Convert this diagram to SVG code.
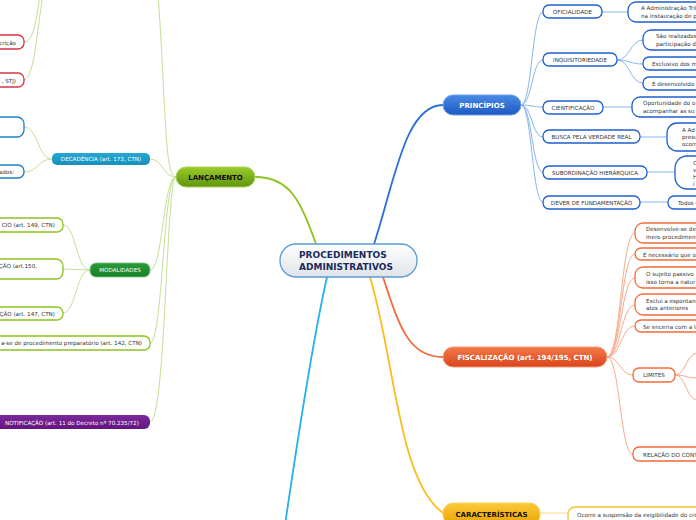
<svg xmlns="http://www.w3.org/2000/svg" width="696" height="520" viewBox="0 0 696 520">
<defs>
<linearGradient id="gCenter" x1="0" y1="0" x2="0" y2="1"><stop offset="0" stop-color="#ffffff"/><stop offset="1" stop-color="#dfe3e8"/></linearGradient>
<linearGradient id="gGreen" x1="0" y1="0" x2="0" y2="1"><stop offset="0" stop-color="#9ccc2a"/><stop offset="1" stop-color="#5f9410"/></linearGradient>
<linearGradient id="gBlue" x1="0" y1="0" x2="0" y2="1"><stop offset="0" stop-color="#4a8ae6"/><stop offset="1" stop-color="#1d58c0"/></linearGradient>
<linearGradient id="gOrange" x1="0" y1="0" x2="0" y2="1"><stop offset="0" stop-color="#f47a48"/><stop offset="1" stop-color="#d8441c"/></linearGradient>
<linearGradient id="gYellow" x1="0" y1="0" x2="0" y2="1"><stop offset="0" stop-color="#fdc93a"/><stop offset="1" stop-color="#e9a300"/></linearGradient>
<linearGradient id="gTeal" x1="0" y1="0" x2="0" y2="1"><stop offset="0" stop-color="#25a9d4"/><stop offset="1" stop-color="#1590bb"/></linearGradient>
<linearGradient id="gDGreen" x1="0" y1="0" x2="0" y2="1"><stop offset="0" stop-color="#2a9a3a"/><stop offset="1" stop-color="#18802a"/></linearGradient>
<linearGradient id="gPurple" x1="0" y1="0" x2="0" y2="1"><stop offset="0" stop-color="#7a2a9a"/><stop offset="1" stop-color="#621580"/></linearGradient>
</defs>
<style>
text{font-family:"DejaVu Sans","Noto Sans",sans-serif;}
.t{font-size:5.6px;fill:#333;}
.tw{font-size:5.6px;fill:#fff;}
.tb{font-size:7px;font-weight:bold;}
.n{fill:#fff;stroke-width:1.3;}
.red{stroke:#d8344a;}
.blu{stroke:#1b7fc4;}
.grn{stroke:#8dc21f;}
.pb{stroke:#1f5fcf;}
.po{stroke:#f26b3a;}
.py{stroke:#f5c230;}
.c{fill:none;stroke-width:1;}
.m{fill:none;stroke-width:1.8;}
.cg{stroke:#c4df98;}
.cb{stroke:#88b6ee;}
.co{stroke:#f8aa8c;}
.cy{stroke:#fcd98a;}
</style>
<rect width="696" height="520" fill="#fff"/>
<g id="connectors">
<path class="m" d="M374,244 C395,180 405,105 443,105" stroke="#2a6fdc"/>
<path class="m" d="M255,177 C290,177 300,200 316,244" stroke="#8dc21f"/>
<path class="m" d="M383,277 C400,330 410,357 443,357" stroke="#f26b3a"/>
<path class="m" d="M370,277 C395,360 398,480 443,513" stroke="#fbbd1e"/>
<path class="m" d="M327,277 C315,330 296,450 285,525" stroke="#27b1ec"/>
<g class="cg">
<path class="c" d="M176,177 C164,177 166,100 158,-5"/>
<path class="c" d="M176,177 C163,177 163,159 150,159"/>
<path class="c" d="M176,177 C163,177 163,270 150,270"/>
<path class="c" d="M176,177 C163,177 163,343 150,343"/>
<path class="c" d="M176,177 C166,177 166,422 150,422"/>
<path class="c" d="M24,42 C34,42 36,20 40,-5"/>
<path class="c" d="M24,80 C34,80 37,30 43,-5"/>
<path class="c" d="M52,159 C38,159 38,127 24,127"/>
<path class="c" d="M52,159 C38,159 38,172 24,172"/>
<path class="c" d="M90,270 C76,270 76,225 63,225"/>
<path class="c" d="M90,270 L63,269"/>
<path class="c" d="M90,270 C76,270 76,313 63,313"/>
</g>
<g class="cb">
<path class="c" d="M521,105 C532,105 532,12 543,12"/>
<path class="c" d="M521,105 C532,105 532,60 543,60"/>
<path class="c" d="M521,105 C532,105 532,107 543,107"/>
<path class="c" d="M521,105 C532,105 532,137 543,137"/>
<path class="c" d="M521,105 C532,105 532,172 543,172"/>
<path class="c" d="M521,105 C532,105 532,202 543,202"/>
<path class="c" d="M602,12 L628,12"/>
<path class="c" d="M617,60 C630,60 630,40 643,40"/>
<path class="c" d="M617,60 C630,60 630,64 643,64"/>
<path class="c" d="M617,60 C630,60 630,83 643,83"/>
<path class="c" d="M603,107 L632,107"/>
<path class="c" d="M640,137 L667,137"/>
<path class="c" d="M647,172 L675,172"/>
<path class="c" d="M640,202 L668,202"/>
</g>
<g class="co">
<path class="c" d="M607,357 C621,357 621,233 635,233"/>
<path class="c" d="M607,357 C621,357 621,254 635,254"/>
<path class="c" d="M607,357 C621,357 621,278 635,278"/>
<path class="c" d="M607,357 C621,357 621,305 635,305"/>
<path class="c" d="M607,357 C621,357 621,326 635,326"/>
<path class="c" d="M607,357 C620,357 620,375 633,375"/>
<path class="c" d="M607,357 C620,357 620,454 633,454"/>
<path class="c" d="M675,375 C686,375 686,353 698,353"/>
<path class="c" d="M675,375 C686,375 686,378 698,378"/>
<path class="c" d="M675,375 C686,375 686,400 698,400"/>
</g>
<g class="cy">
<path class="c" d="M540,513 L568,513"/>
</g>
</g>
<g id="center">
<rect x="280" y="244" width="137" height="33" rx="16" fill="url(#gCenter)" stroke="#5b9bd5" stroke-width="1.3"/>
<text x="299" y="258" font-size="9" font-weight="bold" fill="#1b2a5c">PROCEDIMENTOS</text>
<text x="299" y="270" font-size="9" font-weight="bold" fill="#1b2a5c">ADMINISTRATIVOS</text>
</g>
<g id="lancamento">
<rect x="176" y="167" width="79" height="20" rx="10" fill="url(#gGreen)" stroke="#a8d45a" stroke-width="1"/>
<text class="tb" x="215.5" y="180" text-anchor="middle" fill="#111">LANÇAMENTO</text>
</g>
<g id="principios">
<rect x="443" y="95" width="78" height="20" rx="10" fill="url(#gBlue)" stroke="#6fa0ea" stroke-width="1"/>
<text class="tb" x="482" y="108" text-anchor="middle" fill="#fff">PRINCÍPIOS</text>
</g>
<g id="fiscalizacao">
<rect x="443" y="347" width="164" height="20" rx="10" fill="url(#gOrange)" stroke="#f59a76" stroke-width="1"/>
<text class="tb" x="525" y="360" text-anchor="middle" fill="#fff">FISCALIZAÇÃO (art. 194/195, CTN)</text>
</g>
<g id="caracteristicas">
<rect x="443" y="503" width="97" height="22" rx="10" fill="url(#gYellow)" stroke="#fcd460" stroke-width="1"/>
<text class="tb" x="491.5" y="517" text-anchor="middle" fill="#111">CARACTERÍSTICAS</text>
</g>
<g id="red1"><rect class="n red" x="-20" y="35" width="44" height="14" rx="6"/><text class="t" x="16" y="44.5" text-anchor="end">crição</text></g>
<g id="red2"><rect class="n red" x="-20" y="73" width="44" height="14" rx="6"/><text class="t" x="16" y="82.5" text-anchor="end">, STJ)</text></g>
<g id="decadencia">
<rect x="52" y="153" width="98" height="12" rx="5" fill="url(#gTeal)"/>
<text class="tw" x="101" y="161" text-anchor="middle">DECADÊNCIA (art. 173, CTN)</text>
</g>
<g id="dec1"><rect class="n blu" x="-20" y="117" width="44" height="20" rx="7"/></g>
<g id="dec2"><rect class="n blu" x="-20" y="165" width="44" height="13" rx="6"/><text class="t" x="14" y="173.5" text-anchor="end">ados:</text></g>
<g id="modalidades">
<rect x="90" y="263" width="60" height="14" rx="6" fill="url(#gDGreen)" stroke="#7cc27a" stroke-width="0.8"/>
<text class="tw" x="120" y="272" text-anchor="middle">MODALIDADES</text>
</g>
<g id="mod1"><rect class="n grn" x="-20" y="218" width="83" height="14" rx="6"/><text class="t" x="55" y="227" text-anchor="end">CIO (art. 149, CTN)</text></g>
<g id="mod2"><rect class="n grn" x="-20" y="259" width="83" height="20" rx="7"/><text class="t" x="37" y="268" text-anchor="end">ÇÃO (art.150,</text></g>
<g id="mod3"><rect class="n grn" x="-20" y="307" width="83" height="13" rx="6"/><text class="t" x="55" y="316" text-anchor="end">ÇÃO (art. 147, CTN)</text></g>
<g id="preparatorio"><rect class="n grn" x="-20" y="336" width="170" height="14" rx="6"/><text class="t" x="142" y="345" text-anchor="end">a-se de procedimento preparatório (art. 142, CTN)</text></g>
<g id="notificacao">
<rect x="-20" y="415" width="170" height="14" rx="6" fill="url(#gPurple)"/>
<text class="tw" x="5" y="424.5">NOTIFICAÇÃO (art. 11 do Decreto nº 70.235/72)</text>
</g>
<g id="oficialidade"><rect class="n pb" x="543" y="5" width="59" height="13" rx="6"/><text class="t" x="572.5" y="14" text-anchor="middle">OFICIALIDADE</text></g>
<g id="ofic1"><rect class="n pb" x="628" y="2" width="90" height="20" rx="8"/><text class="t" x="641" y="10">A Administração Trib</text><text class="t" x="641" y="17.5">na instauração de p</text></g>
<g id="inquisitoriedade"><rect class="n pb" x="543" y="53" width="74" height="13" rx="6"/><text class="t" x="580" y="62" text-anchor="middle">INQUISITORIEDADE</text></g>
<g id="inq1"><rect class="n pb" x="643" y="30" width="70" height="20" rx="8"/><text class="t" x="656" y="38">São realizados</text><text class="t" x="656" y="45.5">participação do</text></g>
<g id="inq2"><rect class="n pb" x="643" y="57" width="70" height="13" rx="6"/><text class="t" x="652" y="66">Exclusivo dos m</text></g>
<g id="inq3"><rect class="n pb" x="643" y="77" width="70" height="13" rx="6"/><text class="t" x="652" y="86">É desenvolvido</text></g>
<g id="cientificacao"><rect class="n pb" x="543" y="101" width="60" height="13" rx="6"/><text class="t" x="573" y="110" text-anchor="middle">CIENTIFICAÇÃO</text></g>
<g id="cien1"><rect class="n pb" x="632" y="97" width="80" height="20" rx="8"/><text class="t" x="643" y="105">Oportunidade do o</text><text class="t" x="643" y="112.5">acompanhar as su</text></g>
<g id="busca"><rect class="n pb" x="543" y="130" width="97" height="13" rx="6"/><text class="t" x="591.5" y="139" text-anchor="middle">BUSCA PELA VERDADE REAL</text></g>
<g id="busca1"><rect class="n pb" x="667" y="123" width="50" height="28" rx="10"/><text class="t" x="682" y="131.5">A Ad</text><text class="t" x="682" y="138.5">presu</text><text class="t" x="682" y="145.5">ocorr</text></g>
<g id="subordinacao"><rect class="n pb" x="543" y="166" width="104" height="13" rx="6"/><text class="t" x="595" y="175" text-anchor="middle">SUBORDINAÇÃO HIERÁRQUICA</text></g>
<g id="sub1"><rect class="n pb" x="675" y="156" width="45" height="33" rx="12"/><text class="t" x="693" y="164.5">O</text><text class="t" x="693" y="171.5">v</text><text class="t" x="693" y="178.5">H</text><text class="t" x="693" y="185.5">i</text></g>
<g id="dever"><rect class="n pb" x="543" y="196" width="97" height="13" rx="6"/><text class="t" x="591.5" y="205" text-anchor="middle">DEVER DE FUNDAMENTAÇÃO</text></g>
<g id="dever1"><rect class="n pb" x="668" y="196" width="50" height="13" rx="6"/><text class="t" x="678" y="205">Todos o</text></g>
<g id="fis1"><rect class="n po" x="635" y="223" width="75" height="20" rx="8"/><text class="t" x="646" y="231">Desenvolve-se de</text><text class="t" x="646" y="238.5">mero procediment</text></g>
<g id="fis2"><rect class="n po" x="635" y="248" width="75" height="12" rx="6"/><text class="t" x="643" y="256.5">É necessário que o</text></g>
<g id="fis3"><rect class="n po" x="635" y="267" width="75" height="21" rx="8"/><text class="t" x="646" y="276">O sujeito passivo</text><text class="t" x="646" y="283.5">isso torna a natur</text></g>
<g id="fis4"><rect class="n po" x="635" y="294" width="75" height="21" rx="8"/><text class="t" x="646" y="302.5">Exclui a espontane</text><text class="t" x="646" y="310">atos anteriores</text></g>
<g id="fis5"><rect class="n po" x="635" y="320" width="75" height="12" rx="6"/><text class="t" x="643" y="328.5">Se encerra com a la</text></g>
<g id="limites"><rect class="n po" x="633" y="368" width="42" height="14" rx="6"/><text class="t" x="654" y="377" text-anchor="middle">LIMITES</text></g>
<g id="relacao"><rect class="n po" x="633" y="447" width="80" height="14" rx="6"/><text class="t" x="643" y="456.5">RELAÇÃO DO CONT</text></g>
<g id="car1"><rect class="n py" x="568" y="507" width="140" height="20" rx="7"/><text class="t" x="577" y="516.5">Ocorre a suspensão da exigibilidade do cré</text></g>
</svg>
